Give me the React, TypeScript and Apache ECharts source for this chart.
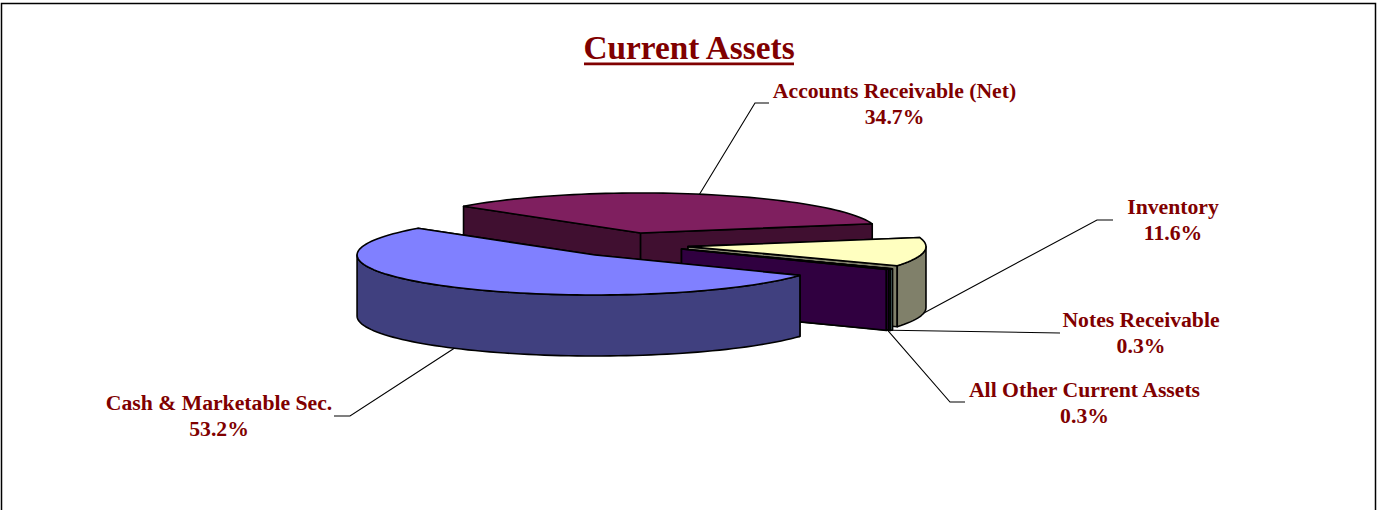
import React, { useEffect, useRef } from "react";
import * as echarts from "echarts";

const titleText = "Current Assets";
const categories = ["Cash & Marketable Sec.", "Accounts Receivable (Net)", "Inventory", "Notes Receivable", "All Other Current Assets"];
const percents = [53.2, 34.7, 11.6, 0.3, 0.3];

// styling and layout, per slice
const topColors = ["#8080ff", "#7f1f5f", "#ffffc0", "#c0ffff", "#600060"];
const wallColors = ["#40407f", "#400f30", "#80806a", "#60807f", "#300040"];
const drawDepth = [5, 1, 2, 3, 4];
const explodeX = [0.241, 0.197, 0.25, 0.26, 0.255];
const explodeY = [0.31, 0.31, 0.31, 0.25, 0.2];
const labelCentre = [[219, 416], [894.5, 104], [1173, 220], [1141, 333], [1084.5, 403]];
const elbowX = [350, 755, 1097, 1060, 950];
const elbowY = [416, 103, 220, 333, 402];
const lineEndX = [334, 769, 1113, 1060, 965];
const rimOnTop = [false, true, false, false, false];

const CX = 629, CY = 245, RX = 238, RY = 40, DEPTH = 61;
const FIRST_ANGLE = 120.6; // degrees clockwise from the back of the pie
const TEXT = "#800000";
const FONT = '"Liberation Serif", "Times New Roman", serif';

const total = percents.reduce((a, b) => a + b, 0);
const starts: number[] = [];
percents.reduce((acc, v, i) => { starts[i] = acc; return acc + (v / total) * 360; }, FIRST_ANGLE);

const rad = (d: number) => (d * Math.PI) / 180;
const dirX = (d: number) => Math.sin(rad(d));
const dirY = (d: number) => -Math.cos(rad(d));

function geometry(i: number) {
  const from = starts[i];
  const to = from + (percents[i] / total) * 360;
  const mid = (from + to) / 2;
  const ax = CX + dirX(mid) * RX * explodeX[i];
  const ay = CY + dirY(mid) * RY * explodeY[i];
  return { from, to, mid, ax, ay };
}

function arcPoints(ax: number, ay: number, from: number, to: number) {
  const pts: number[][] = [];
  const steps = Math.max(2, Math.ceil(Math.abs(to - from) / 2));
  for (let s = 0; s <= steps; s++) {
    const d = from + ((to - from) * s) / steps;
    pts.push([ax + dirX(d) * RX, ay + dirY(d) * RY]);
  }
  return pts;
}

const lineStyle = { stroke: "#000", lineWidth: 1.6, lineJoin: "round" };

function renderSlice(params: any, api: any) {
  const i = params.dataIndex;
  api.value(1);
  const { from, to, ax, ay } = geometry(i);
  const z = drawDepth[i] * 10;
  const top = arcPoints(ax, ay, from, to);
  const children: any[] = [];
  const wall = (points: number[][], fill: string, z2: number) =>
    children.push({ type: "polygon", z2, shape: { points }, style: { ...lineStyle, fill } });
  const down = (p: number[]) => [p[0], p[1] + DEPTH];
  // the two cut faces
  const a = top[0], b = top[top.length - 1];
  const apex = [ax, ay];
  wall([apex, a, down(a), down(apex)], wallColors[i], z);
  wall([apex, b, down(b), down(apex)], wallColors[i], z + 1);
  // the visible outer rim: the part of the arc at the front of the pie
  [0, 360].forEach((turn) => {
    const visFrom = Math.max(from, 90 + turn);
    const visTo = Math.min(to, 270 + turn);
    if (visTo > visFrom) {
      const rim = arcPoints(ax, ay, visFrom, visTo);
      wall([...rim, ...rim.slice().reverse().map((p) => down(p))], wallColors[i], z + 2);
    }
  });
  wall([apex, ...top], topColors[i], z + 3);
  return { type: "group", children };
}

function renderLabel(params: any, api: any) {
  const i = params.dataIndex;
  const { mid, ax, ay } = geometry(i);
  const sx = ax + dirX(mid) * RX;
  const sy = ay + dirY(mid) * RY + (rimOnTop[i] ? 0 : DEPTH);
  return {
    type: "group",
    children: [
      {
        type: "polyline",
        z2: 100,
        shape: { points: [[sx, sy], [elbowX[i], elbowY[i]], [lineEndX[i], elbowY[i]]] },
        style: { stroke: "#000", lineWidth: 1.1, fill: "none" },
      },
      {
        type: "text",
        z2: 101,
        x: labelCentre[i][0],
        y: labelCentre[i][1],
        style: {
          text: `${categories[i]}\n${api.value(1).toFixed(1)}%`,
          font: `bold 21.7px ${FONT}`,
          fill: TEXT,
          align: "center",
          verticalAlign: "middle",
          lineHeight: 26,
        },
      },
    ],
  };
}

export default function App() {
  const ref = useRef<HTMLDivElement>(null);
  useEffect(() => {
    document.body.style.margin = "0";
    const chart = echarts.init(ref.current!, null, { renderer: "svg" });
    const rows = categories.map((c, i) => [c, percents[i]]);
    chart.setOption({
      animation: false,
      backgroundColor: "#fff",
      title: {
        text: titleText,
        left: 684,
        top: 26,
        textAlign: "center",
        textStyle: { color: TEXT, fontFamily: FONT, fontWeight: "bold", fontSize: 33.3 },
      },
      graphic: [
        { type: "rect", shape: { x: 584, y: 62.5, width: 210, height: 2.8 }, style: { fill: TEXT } },
        { type: "polyline", shape: { points: [[1.5, 510], [1.5, 3.5], [1375.5, 3.5], [1375.5, 510]] }, style: { stroke: "#000", lineWidth: 1.5, fill: "none" } },
      ],
      series: [
        { type: "custom", coordinateSystem: "none", data: rows, renderItem: renderSlice, silent: true, z: 2 },
        { type: "custom", coordinateSystem: "none", data: rows, renderItem: renderLabel, silent: true, z: 3 },
      ],
    });
    return () => chart.dispose();
  }, []);
  return <div ref={ref} style={{ position: "fixed", left: 0, top: 0, width: 1377, height: 510 }} />;
}
